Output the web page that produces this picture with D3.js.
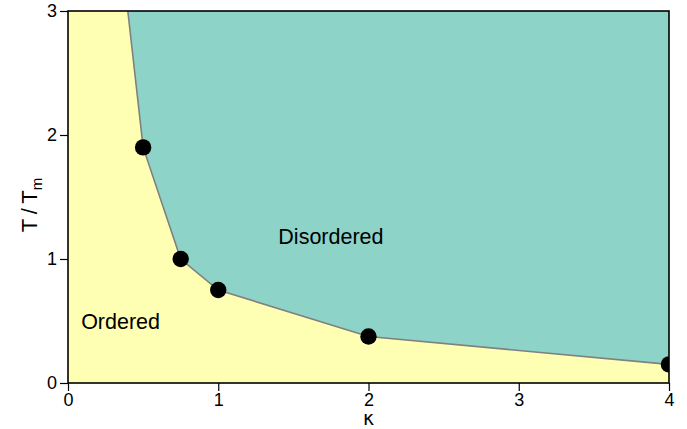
<!DOCTYPE html>
<html>
<head>
<meta charset="utf-8">
<script src="https://cdn.jsdelivr.net/npm/d3@7"></script>
<style>
  html, body { margin: 0; padding: 0; background: #fff; }
  svg { display: block; font-family: "Liberation Sans", Arial, sans-serif; }
</style>
</head>
<body>
<svg id="chart" width="687" height="429"></svg>
<script>
// Measured transition points (coupling kappa vs reduced temperature T/Tm)
const kappaPoints = [0.5, 0.75, 1, 2, 4];
const tempPoints = [1.9, 1.0, 0.75, 0.375, 0.15];

// Phase boundary, including where it leaves the top of the frame
const boundaryKappa = [0.398, 0.5, 0.75, 1, 2, 4];
const boundaryTemp = [3, 1.9, 1.0, 0.75, 0.375, 0.15];

const xTicks = [0, 1, 2, 3, 4];
const yTicks = [0, 1, 2, 3];
const regionLabels = [
  { text: "Disordered", k: 1.75, t: 1.12 },
  { text: "Ordered", k: 0.35, t: 0.435 }
];

const width = 687, height = 429;
const margin = { top: 11, right: 18, bottom: 46, left: 68 };
const innerW = width - margin.left - margin.right;
const innerH = height - margin.top - margin.bottom;

const svg = d3.select("#chart");
const g = svg.append("g").attr("transform", `translate(${margin.left},${margin.top})`);

const x = d3.scaleLinear().domain([0, 4]).range([0, innerW]);
const y = d3.scaleLinear().domain([0, 3]).range([innerH, 0]);

g.append("defs").append("clipPath").attr("id", "plot-clip")
  .append("rect").attr("width", innerW).attr("height", innerH);

// Ordered phase fills the whole frame first
g.append("rect")
  .attr("width", innerW).attr("height", innerH)
  .attr("fill", "#ffffb3");

// Disordered phase: region above the boundary
const boundary = boundaryKappa.map((k, i) => [k, boundaryTemp[i]]);
const area = d3.area()
  .x(d => x(d[0]))
  .y0(() => y(3))
  .y1(d => y(d[1]));
g.append("path")
  .datum(boundary)
  .attr("d", area)
  .attr("fill", "#8dd3c7");

g.append("path")
  .datum(boundary)
  .attr("d", d3.line().x(d => x(d[0])).y(d => y(d[1])))
  .attr("fill", "none")
  .attr("stroke", "#808080")
  .attr("stroke-width", 1.6);

// Transition points
g.append("g").attr("clip-path", "url(#plot-clip)")
  .selectAll("circle")
  .data(kappaPoints.map((k, i) => [k, tempPoints[i]]))
  .join("circle")
  .attr("cx", d => x(d[0]))
  .attr("cy", d => y(d[1]))
  .attr("r", 8.2)
  .attr("fill", "#000");

// Phase labels
g.selectAll("text.region")
  .data(regionLabels)
  .join("text")
  .attr("class", "region")
  .attr("x", d => x(d.k))
  .attr("y", d => y(d.t))
  .attr("text-anchor", "middle")
  .attr("font-size", 21.5)
  .attr("fill", "#000")
  .text(d => d.text);

// Frame
g.append("rect")
  .attr("width", innerW).attr("height", innerH)
  .attr("fill", "none")
  .attr("stroke", "#000")
  .attr("stroke-width", 1.6);

// Axes
const xAxis = g.append("g")
  .attr("transform", `translate(0,${innerH})`)
  .call(d3.axisBottom(x).tickValues(xTicks).tickFormat(d3.format("d")).tickSize(8).tickPadding(2));
const yAxis = g.append("g")
  .call(d3.axisLeft(y).tickValues(yTicks).tickFormat(d3.format("d")).tickSize(8).tickPadding(3));

[xAxis, yAxis].forEach(ax => {
  ax.select(".domain").remove();
  ax.selectAll(".tick line").attr("stroke", "#000").attr("stroke-width", 1.2);
  ax.selectAll(".tick text")
    .attr("font-family", "'Liberation Sans', Arial, sans-serif")
    .attr("font-size", 18).attr("fill", "#000");
});

// Axis titles
svg.append("text")
  .attr("x", margin.left + x(2))
  .attr("y", 425)
  .attr("text-anchor", "middle")
  .attr("font-family", "'DejaVu Sans', sans-serif")
  .attr("font-size", 19)
  .text("κ");

const yTitle = svg.append("text")
  .attr("transform", `translate(37,${margin.top + y(1.5) + 8}) rotate(-90)`)
  .attr("text-anchor", "middle")
  .attr("font-size", 22);
yTitle.append("tspan").text("T\u2009/\u2009T");
yTitle.append("tspan").attr("font-size", 15).attr("dy", 5).text("m");
</script>
</body>
</html>
